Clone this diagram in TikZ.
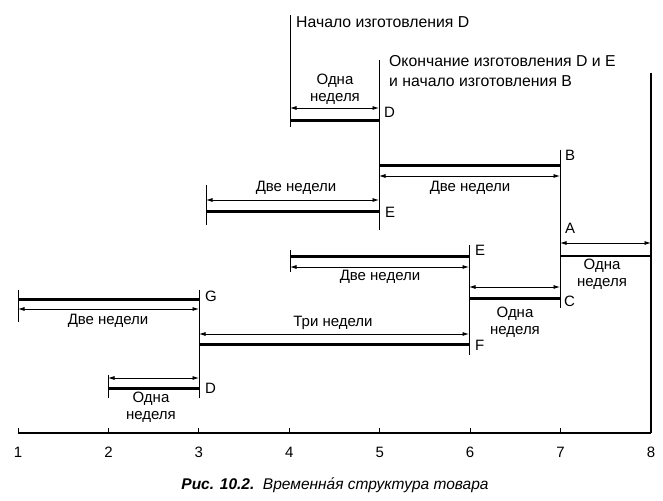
\documentclass[tikz,border=0pt]{standalone}
\usepackage{fontspec}
\setmainfont{Liberation Sans}
\usetikzlibrary{arrows.meta}
\begin{document}
\begin{tikzpicture}[x=1pt,y=-1pt,
  bar/.style={line width=3pt},
  dim/.style={line width=0.8pt,{Latex[length=6.5pt,width=4pt]}-{Latex[length=6.5pt,width=4pt]}},
  guide/.style={line width=0.9pt},
  heavy/.style={line width=1.8pt},
  lbl/.style={font=\fontsize{15}{17}\selectfont, inner sep=0pt, anchor=west},
  dur/.style={font=\fontsize{15}{17}\selectfont, align=center, inner sep=0pt},
  num/.style={font=\fontsize{15}{17}\selectfont, inner sep=0pt},
  title/.style={font=\fontsize{15.8}{20}\selectfont, align=left, inner sep=0pt, anchor=west}
]
\useasboundingbox[fill=white] (0,0) rectangle (663,500);

% ---------- vertical guide lines ----------
\coordinate (v4t) at (290,15);  \coordinate (v4b) at (290,127);
\coordinate (v5t) at (379,60);  \coordinate (v5b) at (379,230);
\coordinate (v7t) at (560,150); \coordinate (v7b) at (560,308);
\coordinate (v8t) at (651,73);  \coordinate (v8b) at (651,433);
\coordinate (vEt) at (206,185); \coordinate (vEb) at (206,225);
\coordinate (v6t) at (469,245); \coordinate (v6b) at (469,355);
\coordinate (vFt) at (290,250); \coordinate (vFb) at (290,272);
\coordinate (v3t) at (199,290); \coordinate (v3b) at (199,398);
\coordinate (v1t) at (18,290);  \coordinate (v1b) at (18,322);
\coordinate (v2t) at (108,375); \coordinate (v2b) at (108,398);
\draw[guide] (v4t) -- (v4b);
\draw[guide] (v5t) -- (v5b);
\draw[guide] (v7t) -- (v7b);
\draw[heavy] (v8t) -- (v8b);
\draw[guide] (vEt) -- (vEb);
\draw[guide] (v6t) -- (v6b);
\draw[guide] (vFt) -- (vFb);
\draw[guide] (v3t) -- (v3b);
\draw[guide] (v1t) -- (v1b);
\draw[guide] (v2t) -- (v2b);

% ---------- headings ----------
\node[title] (h1) at (296,22) {Начало изготовления D};
\node[title] (h2) at (389,71) {Окончание изготовления D и E\\и начало изготовления B};

% ---------- D (top) ----------
\coordinate (dAa) at (290,108); \coordinate (dAb) at (379,108);
\coordinate (dBa) at (290,120); \coordinate (dBb) at (379,120);
\draw[dim] (dAa) -- (dAb);
\draw[bar] (dBa) -- (dBb);
\node[dur] (dlab) at (335,89) {Одна\\неделя};
\node[lbl] (dname) at (384,112) {D};

% ---------- B ----------
\coordinate (bBa) at (379,165); \coordinate (bBb) at (560,165);
\coordinate (bAa) at (379,176); \coordinate (bAb) at (560,176);
\draw[bar] (bBa) -- (bBb);
\draw[dim] (bAa) -- (bAb);
\node[dur] (blab) at (470,188) {Две недели};
\node[lbl] (bname) at (565,155) {B};

% ---------- E (upper) ----------
\coordinate (eAa) at (206,200); \coordinate (eAb) at (379,200);
\coordinate (eBa) at (206,211); \coordinate (eBb) at (379,211);
\draw[dim] (eAa) -- (eAb);
\draw[bar] (eBa) -- (eBb);
\node[dur] (elab) at (296,188) {Две недели};
\node[lbl] (ename) at (385,212) {E};

% ---------- A ----------
\coordinate (aAa) at (560,243); \coordinate (aAb) at (651,243);
\coordinate (aBa) at (560,256); \coordinate (aBb) at (651,256);
\draw[dim] (aAa) -- (aAb);
\draw[line width=2pt] (aBa) -- (aBb);
\node[dur] (alab) at (602,274) {Одна\\неделя};
\node[lbl] (aname) at (565,228) {A};

% ---------- E (lower) ----------
\coordinate (fBa) at (290,256); \coordinate (fBb) at (469,256);
\coordinate (fAa) at (290,267); \coordinate (fAb) at (469,267);
\draw[bar] (fBa) -- (fBb);
\draw[dim] (fAa) -- (fAb);
\node[dur] (flab) at (380,277) {Две недели};
\node[lbl] (fname) at (475,250) {E};

% ---------- C ----------
\coordinate (cAa) at (469,287); \coordinate (cAb) at (560,287);
\coordinate (cBa) at (469,298); \coordinate (cBb) at (560,298);
\draw[dim] (cAa) -- (cAb);
\draw[bar] (cBa) -- (cBb);
\node[dur] (clab) at (515,322) {Одна\\неделя};
\node[lbl] (cname) at (564,301) {C};

% ---------- F ----------
\coordinate (tAa) at (199,334); \coordinate (tAb) at (469,334);
\coordinate (tBa) at (199,344); \coordinate (tBb) at (469,344);
\draw[dim] (tAa) -- (tAb);
\draw[bar] (tBa) -- (tBb);
\node[dur] (tlab) at (333,323) {Три недели};
\node[lbl] (tname) at (475,345) {F};

% ---------- G ----------
\coordinate (gBa) at (18,299); \coordinate (gBb) at (199,299);
\coordinate (gAa) at (18,309); \coordinate (gAb) at (199,309);
\draw[bar] (gBa) -- (gBb);
\draw[dim] (gAa) -- (gAb);
\node[dur] (glab) at (108,321) {Две недели};
\node[lbl] (gname) at (205,296) {G};

% ---------- D (lower) ----------
\coordinate (kAa) at (108,378); \coordinate (kAb) at (199,378);
\coordinate (kBa) at (108,388); \coordinate (kBb) at (199,388);
\draw[dim] (kAa) -- (kAb);
\draw[bar] (kBa) -- (kBb);
\node[dur] (klab) at (151,407) {Одна\\неделя};
\node[lbl] (kname) at (205,388) {D};

% ---------- time axis ----------
\coordinate (ax1) at (18,433); \coordinate (ax8) at (651,433);
\draw[line width=1.2pt] (ax1) -- (ax8);
\foreach \k in {1,...,8}{
  \pgfmathsetmacro{\xx}{18+90.43*(\k-1)}
  \draw[line width=0.8pt] (\xx,433) -- (\xx,428);
  \node[num] (n\k) at (\xx,452) {\k};
}

% ---------- caption ----------
\node[font=\fontsize{15.5}{17}\selectfont\itshape, inner sep=0pt] (cap) at (335,485)
  {\textbf{Рис. 10.2.}\ \ Временна́я структура товара};
\end{tikzpicture}
\end{document}
